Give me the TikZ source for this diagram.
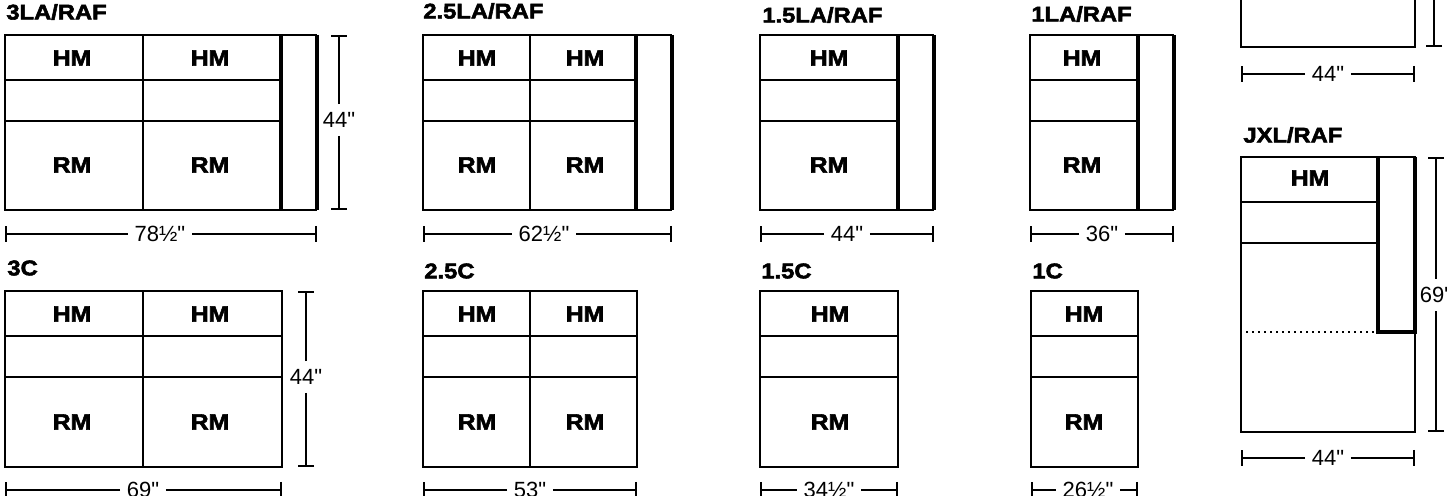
\documentclass[tikz,border=0pt]{standalone}
\usepackage{fontspec}
\setmainfont{Liberation Sans}
\newfontfamily\dimfont{Liberation Sans}
\newfontfamily\blackfont[FakeBold=2.6, FakeStretch=1.12]{Liberation Sans Bold}
\usetikzlibrary{arrows.meta}
\tikzset{x=0.5pt, y=-0.5pt, seat/.style={draw, line width=1pt}, arm/.style={draw, line width=1.7pt},
  title/.style={anchor=west, inner sep=0pt, font=\blackfont\fontsize{10.6}{12}\selectfont},
  cushion/.style={inner sep=0pt, font=\blackfont\fontsize{11}{12}\selectfont},
  dimlabel/.style={inner xsep=3.2pt, inner ysep=4pt, font=\dimfont\fontsize{11}{12}\selectfont},
  dimline/.style={draw, line width=1pt, -{Bar[width=8pt, line width=1pt]}},
  dotline/.style={draw, line width=0.8pt, dash pattern=on 0.8pt off 2.2pt}}

\begin{document}
\begin{tikzpicture}
            \useasboundingbox (0,0) rectangle (1447,496);

            % 3LA/RAF
            \node[title] (t1) at (6,12) {3LA/RAF};
            \draw[seat] (5,35) rectangle (281,210) (143,35) -- (143,210) (5,80) -- (281,80) (5,121) -- (281,121) (281,35) -- (317,35) (281,210) -- (317,210);
            \draw[arm] (281,35) -- (281,210) (317,35) -- (317,210);
            \node[cushion] (hm1) at (72,58) {HM};
            \node[cushion] (hm2) at (210,58) {HM};
            \node[cushion] (rm1) at (72,165) {RM};
            \node[cushion] (rm2) at (210,165) {RM};
            \node[dimlabel] (w1) at (160,234) {78½"};
            \coordinate (w1l) at (5,234);
            \coordinate (w1r) at (317,234);
            \draw[dimline] (w1) -- (w1l);
            \draw[dimline] (w1) -- (w1r);
            \node[dimlabel] (h1) at (339,120) {44"};
            \coordinate (h1t) at (339,35);
            \coordinate (h1b) at (339,210);
            \draw[dimline] (h1) -- (h1t);
            \draw[dimline] (h1) -- (h1b);

            % 3C
            \node[title] (t2) at (7,268) {3C};
            \draw[seat] (5,291) rectangle (282,467) (143,291) -- (143,467) (5,336) -- (282,336) (5,377) -- (282,377);
            \node[cushion] (hm3) at (72,314) {HM};
            \node[cushion] (hm4) at (210,314) {HM};
            \node[cushion] (rm3) at (72,422) {RM};
            \node[cushion] (rm4) at (210,422) {RM};
            \node[dimlabel] (w2) at (143,490) {69"};
            \coordinate (w2l) at (5,490);
            \coordinate (w2r) at (282,490);
            \draw[dimline] (w2) -- (w2l);
            \draw[dimline] (w2) -- (w2r);
            \node[dimlabel] (h2) at (306,377) {44"};
            \coordinate (h2t) at (306,291);
            \coordinate (h2b) at (306,467);
            \draw[dimline] (h2) -- (h2t);
            \draw[dimline] (h2) -- (h2b);

            % 2.5LA/RAF
            \node[title] (t3) at (423,11) {2.5LA/RAF};
            \draw[seat] (423,35) rectangle (636,210) (530,35) -- (530,210) (423,80) -- (636,80) (423,121) -- (636,121) (636,35) -- (672,35) (636,210) -- (672,210);
            \draw[arm] (636,35) -- (636,210) (672,35) -- (672,210);
            \node[cushion] (hm5) at (477,58) {HM};
            \node[cushion] (hm6) at (585,58) {HM};
            \node[cushion] (rm5) at (477,165) {RM};
            \node[cushion] (rm6) at (585,165) {RM};
            \node[dimlabel] (w3) at (544,234) {62½"};
            \coordinate (w3l) at (423,234);
            \coordinate (w3r) at (672,234);
            \draw[dimline] (w3) -- (w3l);
            \draw[dimline] (w3) -- (w3r);

            % 2.5C
            \node[title] (t4) at (424,271) {2.5C};
            \draw[seat] (423,291) rectangle (637,467) (530,291) -- (530,467) (423,336) -- (637,336) (423,377) -- (637,377);
            \node[cushion] (hm7) at (477,314) {HM};
            \node[cushion] (hm8) at (585,314) {HM};
            \node[cushion] (rm7) at (477,422) {RM};
            \node[cushion] (rm8) at (585,422) {RM};
            \node[dimlabel] (w4) at (530,490) {53"};
            \coordinate (w4l) at (423,490);
            \coordinate (w4r) at (637,490);
            \draw[dimline] (w4) -- (w4l);
            \draw[dimline] (w4) -- (w4r);

            % 1.5LA/RAF
            \node[title] (t5) at (762,15) {1.5LA/RAF};
            \draw[seat] (760,35) rectangle (898,210) (760,80) -- (898,80) (760,121) -- (898,121) (898,35) -- (934,35) (898,210) -- (934,210);
            \draw[arm] (898,35) -- (898,210) (934,35) -- (934,210);
            \node[cushion] (hm9) at (829,58) {HM};
            \node[cushion] (rm9) at (829,165) {RM};
            \node[dimlabel] (w5) at (847,234) {44"};
            \coordinate (w5l) at (760,234);
            \coordinate (w5r) at (934,234);
            \draw[dimline] (w5) -- (w5l);
            \draw[dimline] (w5) -- (w5r);

            % 1.5C
            \node[title] (t6) at (761,271) {1.5C};
            \draw[seat] (760,291) rectangle (898,467) (760,336) -- (898,336) (760,377) -- (898,377);
            \node[cushion] (hm10) at (830,314) {HM};
            \node[cushion] (rm10) at (830,422) {RM};
            \node[dimlabel] (w6) at (829,490) {34½"};
            \coordinate (w6l) at (760,490);
            \coordinate (w6r) at (898,490);
            \draw[dimline] (w6) -- (w6l);
            \draw[dimline] (w6) -- (w6r);

            % 1LA/RAF
            \node[title] (t7) at (1031,14) {1LA/RAF};
            \draw[seat] (1030,35) rectangle (1138,210) (1030,80) -- (1138,80) (1030,121) -- (1138,121) (1138,35) -- (1174,35) (1138,210) -- (1174,210);
            \draw[arm] (1138,35) -- (1138,210) (1174,35) -- (1174,210);
            \node[cushion] (hm11) at (1082,58) {HM};
            \node[cushion] (rm11) at (1082,165) {RM};
            \node[dimlabel] (w7) at (1102,234) {36"};
            \coordinate (w7l) at (1030,234);
            \coordinate (w7r) at (1174,234);
            \draw[dimline] (w7) -- (w7l);
            \draw[dimline] (w7) -- (w7r);

            % 1C
            \node[title] (t8) at (1032,271) {1C};
            \draw[seat] (1031,291) rectangle (1138,467) (1031,336) -- (1138,336) (1031,377) -- (1138,377);
            \node[cushion] (hm12) at (1084,314) {HM};
            \node[cushion] (rm12) at (1084,422) {RM};
            \node[dimlabel] (w8) at (1088,490) {26½"};
            \coordinate (w8l) at (1031,490);
            \coordinate (w8r) at (1138,490);
            \draw[dimline] (w8) -- (w8l);
            \draw[dimline] (w8) -- (w8r);

            % cut off at the top
            \draw[seat] (1241,-5) -- (1241,47) -- (1415,47) -- (1415,-5);
            \node[dimlabel] (w9) at (1328,74) {44"};
            \coordinate (w9l) at (1241,74);
            \coordinate (w9r) at (1415,74);
            \draw[dimline] (w9) -- (w9l);
            \draw[dimline] (w9) -- (w9r);
            \coordinate (h9t) at (1434,-5);
            \coordinate (h9b) at (1434,47);
            \draw[dimline] (h9t) -- (h9b);

            % JXL/RAF
            \node[title] (t10) at (1243,135) {JXL/RAF};
            \draw[seat] (1241,157) rectangle (1415,432) (1241,202) -- (1378,202) (1241,243) -- (1378,243);
            \draw[arm] (1378,157) -- (1378,332) -- (1415,332) -- (1415,157);
            \draw[dotline] (1246,332) -- (1378,332);
            \node[cushion] (hm13) at (1310,178) {HM};
            \node[dimlabel] (w10) at (1328,458) {44"};
            \coordinate (w10l) at (1241,458);
            \coordinate (w10r) at (1415,458);
            \draw[dimline] (w10) -- (w10l);
            \draw[dimline] (w10) -- (w10r);
            \node[dimlabel] (h10) at (1436,295) {69"};
            \coordinate (h10t) at (1436,157);
            \coordinate (h10b) at (1436,432);
            \draw[dimline] (h10) -- (h10t);
            \draw[dimline] (h10) -- (h10b);
\end{tikzpicture}
\end{document}
